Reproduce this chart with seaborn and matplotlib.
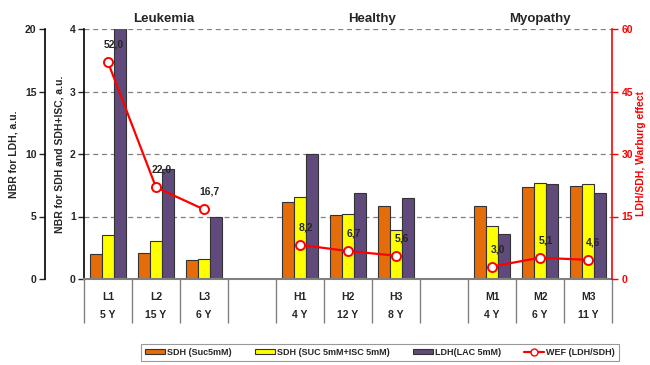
import numpy as np
import pandas as pd
import seaborn as sns
import matplotlib.pyplot as plt
from matplotlib.patches import Patch
from matplotlib.lines import Line2D

# categories (two blank gaps between the groups)
categories = ["L1", "L2", "L3", "gap1", "H1", "H2", "H3", "gap2", "M1", "M2", "M3"]
ages = ["5 Y", "15 Y", "6 Y", "", "4 Y", "12 Y", "8 Y", "", "4 Y", "6 Y", "11 Y"]
patients = ["L1", "L2", "L3", "H1", "H2", "H3", "M1", "M2", "M3"]
groups = ["Leukemia"] * 3 + ["Healthy"] * 3 + ["Myopathy"] * 3

# NBR values, a.u.
sdh_suc = [0.40, 0.41, 0.30, 1.24, 1.02, 1.17, 1.17, 1.47, 1.49]
sdh_suc_isc = [0.70, 0.61, 0.32, 1.32, 1.035, 0.79, 0.85, 1.53, 1.515]
ldh_lac = [20.8, 8.8, 5.0, 10.0, 6.86, 6.5, 3.57, 7.6, 6.86]
wef = [52.0, 22.0, 16.7, 8.2, 6.7, 5.6, 3.0, 5.1, 4.6]

series = ["SDH (Suc5mM)", "SDH (SUC 5mM+ISC 5mM)", "LDH(LAC 5mM)"]
colors = ["#E46C0A", "#FFFF00", "#604A7B"]
ldh_scale = 5.0  # LDH axis 0-20 against SDH axis 0-4

rows = []
for i, p in enumerate(patients):
    rows.append((p, series[0], sdh_suc[i]))
    rows.append((p, series[1], sdh_suc_isc[i]))
    rows.append((p, series[2], ldh_lac[i] / ldh_scale))
df = pd.DataFrame(rows, columns=["cat", "series", "val"])

sns.set_style("white")
plt.rcParams["font.family"] = ["Liberation Sans", "DejaVu Sans"]
plt.rcParams["font.weight"] = "bold"
plt.rcParams["axes.labelweight"] = "bold"

fig = plt.figure(figsize=(6.5, 3.65), dpi=100)
ax = fig.add_axes([84 / 650, 1 - 279 / 365, 528 / 650, 250 / 365])

sns.barplot(data=df, x="cat", y="val", hue="series", order=categories,
            hue_order=series, palette=colors, saturation=1, width=0.75, errorbar=None,
            edgecolor="#333333", linewidth=0.8, legend=False, ax=ax)

ax.set_ylim(0, 4)
ax.set_xlim(-0.5, len(categories) - 0.5)
ax.set_yticks([0, 1, 2, 3, 4])
for y in [1, 2, 3, 4]:
    ax.axhline(y, color="#808080", lw=0.9, ls=(0, (4, 3)), zorder=0)
ax.set_xlabel("")
ax.set_ylabel("NBR for SDH and SDH+ISC, a.u.", fontsize=7.5, labelpad=4)
ax.tick_params(axis="y", labelsize=7.5, length=4, width=1, direction="out", left=True, pad=2)

# two-line category labels with separators below the axis
ax.set_xticks(range(len(categories)))
ax.set_xticklabels([c + "\n" + a if not c.startswith("gap") else "" for c, a in zip(categories, ages)],
                   linespacing=2.1)
ax.set_xticks(np.arange(-0.5, len(categories), 1.0), minor=True)
ax.tick_params(axis="x", which="major", length=0, labelsize=7.5, pad=9)
ax.tick_params(axis="x", which="minor", length=32, width=1, color="#808080", bottom=True)
for s in ["top", "right"]:
    ax.spines[s].set_visible(False)
ax.spines["left"].set_color("black")
ax.spines["left"].set_linewidth(1.2)
ax.spines["bottom"].set_color("#808080")
ax.spines["bottom"].set_linewidth(1.5)

# outer LDH axis
axl = ax.twinx()
axl.set_ylim(0, 20)
axl.set_yticks([0, 5, 10, 15, 20])
axl.yaxis.tick_left()
axl.yaxis.set_label_position("left")
axl.spines["left"].set_position(("axes", -0.074))
axl.spines["left"].set_visible(True)
axl.spines["left"].set_color("black")
axl.spines["left"].set_linewidth(1.2)
for s in ["top", "right", "bottom"]:
    axl.spines[s].set_visible(False)
axl.tick_params(axis="y", labelsize=7.5, length=4, width=1, direction="out", pad=2)
axl.set_ylabel("NBR for LDH, a.u.", fontsize=7.5, labelpad=5)

# right WEF axis
axr = ax.twinx()
axr.set_ylim(0, 60)
axr.set_yticks([0, 15, 30, 45, 60])
for s in ["top", "left", "bottom"]:
    axr.spines[s].set_visible(False)
axr.spines["right"].set_color("red")
axr.spines["right"].set_linewidth(1.2)
axr.tick_params(axis="y", colors="red", labelsize=7.5, length=4, width=1, pad=3)
axr.set_ylabel("LDH/SDH, Warburg effect", color="red", fontsize=7.5, labelpad=2)

wef_df = pd.DataFrame({"cat": patients, "wef": wef, "group": groups})
sns.lineplot(data=wef_df, x="cat", y="wef", units="group", estimator=None, sort=False,
             color="red", lw=1.6, marker="o", markersize=6.5, markerfacecolor="white",
             markeredgecolor="red", markeredgewidth=1.4, ax=axr, legend=False)
axr.set_xlabel("")
for p, v in zip(patients, wef):
    axr.annotate(f"{v:.1f}".replace(".", ","), (p, v), xytext=(4, 9),
                 textcoords="offset points", ha="center", va="bottom",
                 fontsize=7.5, fontweight="bold")

# group titles
for name, xpos in [("Leukemia", 1.17), ("Healthy", 5.5), ("Myopathy", 9.0)]:
    ax.text(xpos, 1.015, name, transform=ax.get_xaxis_transform(), ha="center",
            va="bottom", fontsize=9.5, fontweight="bold")

handles = [Patch(facecolor=c, edgecolor="#333333", lw=0.8) for c in colors]
handles.append(Line2D([], [], color="red", lw=1.6, marker="o", markersize=5,
                      markerfacecolor="white", markeredgecolor="red"))
leg = fig.legend(handles, series + ["WEF (LDH/SDH)"], ncol=4, loc="center",
                 bbox_to_anchor=(380 / 650, 1 - 352.5 / 365), fontsize=6.5,
                 frameon=True, fancybox=False, edgecolor="#808080",
                 handlelength=2.2, handleheight=0.5, handletextpad=0.2,
                 columnspacing=2.6, borderpad=0.45)
leg.get_frame().set_linewidth(0.8)

fig.savefig("out.png", dpi=100)
